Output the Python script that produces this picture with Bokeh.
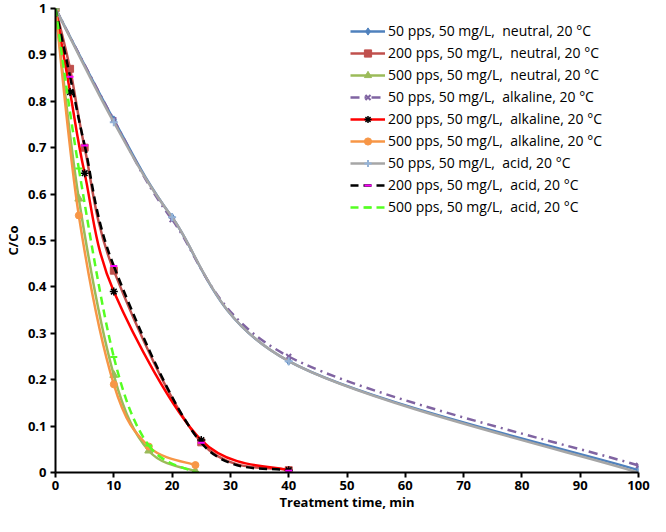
from bokeh.plotting import figure
from bokeh.models import (ColumnDataSource, Legend, LegendItem, Range1d,
                          FixedTicker, CustomJSTickFormatter)
from bokeh.embed import file_html
from bokeh.resources import INLINE

# ---- data ----
t50 = [0, 10, 20, 40, 100]
t200 = [0, 2.5, 5, 10, 25, 40]
t500 = [0, 4, 10, 16, 24]

c50_neutral = [1.0, 0.76, 0.55, 0.24, 0.005]
c200_neutral = [1.0, 0.87, 0.70, 0.435, 0.065, 0.005]
c500_neutral = [1.0, 0.59, 0.21, 0.047, 0.003]
c50_alkaline = [1.0, 0.76, 0.545, 0.25, 0.015]
c200_alkaline = [1.0, 0.82, 0.645, 0.39, 0.07, 0.005]
c500_alkaline = [1.0, 0.554, 0.19, 0.056, 0.016]
c50_acid = [1.0, 0.755, 0.55, 0.24, 0.0]
c200_acid = [1.0, 0.853, 0.705, 0.445, 0.064, 0.004]
c500_acid = [1.0, 0.655, 0.249, 0.058, 0.0]

labels = [
    "50 pps, 50 mg/L,  neutral, 20 °C",
    "200 pps, 50 mg/L,  neutral, 20 °C",
    "500 pps, 50 mg/L,  neutral, 20 °C",
    "50 pps, 50 mg/L,  alkaline, 20 °C",
    "200 pps, 50 mg/L,  alkaline, 20 °C",
    "500 pps, 50 mg/L,  alkaline, 20 °C",
    "50 pps, 50 mg/L,  acid, 20 °C",
    "200 pps, 50 mg/L,  acid, 20 °C",
    "500 pps, 50 mg/L,  acid, 20 °C",
]
x_ticks = [0, 10, 20, 30, 40, 50, 60, 70, 80, 90, 100]
y_ticks = [0, 0.1, 0.2, 0.3, 0.4, 0.5, 0.6, 0.7, 0.8, 0.9, 1.0]

# ---- styles: (x, y, line color, width, dash, marker, marker color, marker size, marker line width)
series = [
    (t50, c50_neutral, "#4F81BD", 2.5, "solid", "diamond", "#4F81BD", 8, 1),
    (t200, c200_neutral, "#C0504D", 2.5, "solid", "square", "#C0504D", 7, 1),
    (t500, c500_neutral, "#9BBB59", 2.5, "solid", "triangle", "#9BBB59", 8, 1),
    (t50, c50_alkaline, "#8064A2", 2.5, "9 5 2 5", "x", "#8064A2", 7, 2),
    (t200, c200_alkaline, "#FF0000", 2.5, "solid", "asterisk", "#000000", 8, 1.5),
    (t500, c500_alkaline, "#F79646", 2.5, "solid", "circle", "#F79646", 7, 1),
    (t50, c50_acid, "#A6A6A6", 2.5, "solid", "cross", "#95B3D7", 8, 2),
    (t200, c200_acid, "#000000", 2.5, "8 5", "dash", "#FF00FF", 7, 2),
    (t500, c500_acid, "#55FF22", 2.5, "8 5", "dash", "#55FF22", 7, 2),
]

FONT = "Open Sans"

p = figure(width=650, height=516, output_backend="svg", toolbar_location=None,
           x_range=Range1d(0, 100), y_range=Range1d(0, 1),
           min_border_left=55, min_border_right=12, min_border_top=8,
           min_border_bottom=44)
p.outline_line_color = None
p.xgrid.visible = False
p.ygrid.visible = False


def bezier_source(xs, ys):
    n = len(xs)
    d = dict(x0=[], y0=[], x1=[], y1=[], cx0=[], cy0=[], cx1=[], cy1=[])
    for i in range(n - 1):
        xm, ym = xs[max(i - 1, 0)], ys[max(i - 1, 0)]
        xa, ya = xs[i], ys[i]
        xb, yb = xs[i + 1], ys[i + 1]
        xp, yp = xs[min(i + 2, n - 1)], ys[min(i + 2, n - 1)]
        d["x0"].append(xa); d["y0"].append(ya)
        d["x1"].append(xb); d["y1"].append(yb)
        d["cx0"].append(xa + (xb - xm) / 6.0); d["cy0"].append(ya + (yb - ym) / 6.0)
        d["cx1"].append(xb - (xp - xa) / 6.0); d["cy1"].append(yb - (yp - ya) / 6.0)
    return ColumnDataSource(d)


nan = float("nan")
items = []
for (xs, ys, lc, lw, dash, mk, mc, ms, mlw), lab in zip(series, labels):
    p.bezier(x0="x0", y0="y0", x1="x1", y1="y1", cx0="cx0", cy0="cy0",
             cx1="cx1", cy1="cy1", source=bezier_source(xs, ys),
             line_color=lc, line_width=lw, line_dash=dash)
    sc = p.scatter(x=xs, y=ys, marker=mk, size=ms, fill_color=mc,
                   line_color=mc, line_width=mlw)
    # legend-only line (a single NaN point draws nothing in the plot)
    leg_line = p.line(x=[nan], y=[nan], line_color=lc, line_width=lw, line_dash=dash)
    items.append(LegendItem(label=lab, renderers=[leg_line, sc]))

legend = Legend(items=items, location=(295, 256), border_line_color=None,
                background_fill_alpha=0, padding=0, margin=0, spacing=3,
                glyph_width=35, glyph_height=18, label_height=18,
                label_standoff=3, label_text_font=FONT,
                label_text_font_size="14px", label_text_color="#000000")
p.add_layout(legend, "center")

for ax in (p.xaxis[0], p.yaxis[0]):
    ax.axis_line_width = 2
    ax.axis_line_color = "#000000"
    ax.major_tick_line_width = 2
    ax.major_tick_line_color = "#000000"
    ax.major_tick_in = 0
    ax.major_tick_out = 5
    ax.minor_tick_line_color = None
    ax.major_label_text_font = FONT
    ax.major_label_text_font_style = "bold"
    ax.major_label_text_font_size = "13px"
    ax.major_label_text_color = "#000000"
    ax.axis_label_text_font = FONT
    ax.axis_label_text_font_style = "bold"
    ax.axis_label_text_font_size = "13px"
    ax.axis_label_text_color = "#000000"

p.xaxis.ticker = FixedTicker(ticks=x_ticks)
p.yaxis.ticker = FixedTicker(ticks=y_ticks)
p.yaxis.formatter = CustomJSTickFormatter(
    code="return tick.toFixed(1).replace(/\\.0$/, '');")
p.xaxis.axis_label = "Treatment time, min"
p.yaxis.axis_label = "C/Co"
p.xaxis.major_label_standoff = 3
p.yaxis.major_label_standoff = 4
p.xaxis.axis_label_standoff = 0
p.yaxis.axis_label_standoff = 3

open("out.html", "w").write(file_html(p, INLINE))
